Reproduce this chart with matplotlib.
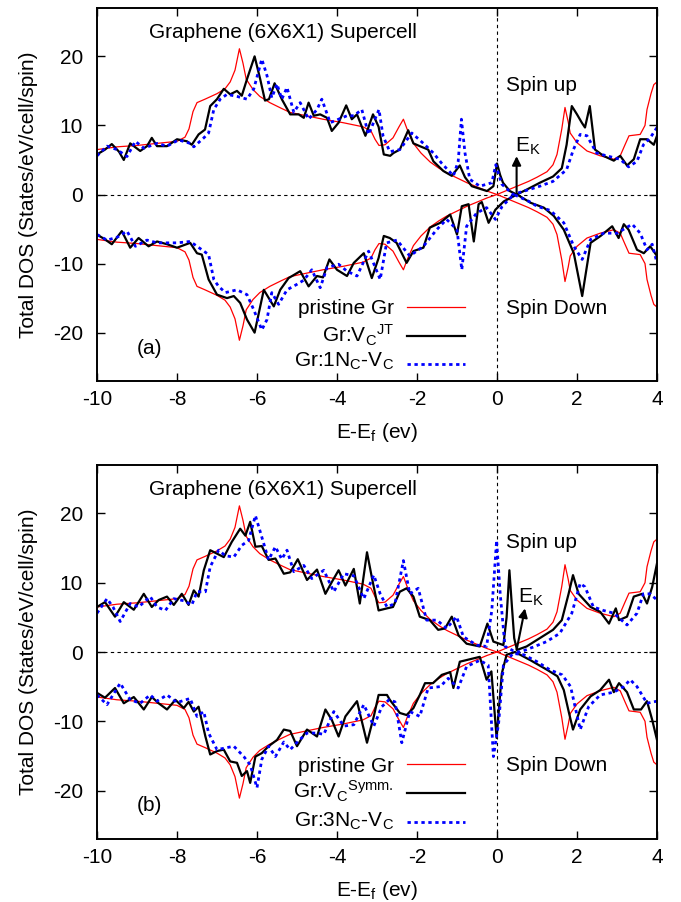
"""
Spin-resolved total DOS of a 6x6x1 graphene supercell:
pristine vs. carbon vacancy (JT / symmetric) and N-doped vacancy.
"""
import matplotlib
matplotlib.use("Agg")
import matplotlib.pyplot as plt
from matplotlib.lines import Line2D

plt.rcParams.update({
    "font.family": ["Liberation Sans", "DejaVu Sans"],
    "font.size": 15,
    "mathtext.fontset": "custom",
    "mathtext.rm": "Liberation Sans",
    "mathtext.it": "Liberation Sans:italic",
    "xtick.direction": "in", "ytick.direction": "in",
    "xtick.top": True, "ytick.right": True,
    "xtick.major.size": 6, "ytick.major.size": 6,
    "xtick.major.width": 1.0, "ytick.major.width": 1.0,
    "xtick.major.pad": 6.7, "ytick.major.pad": 10,
    "axes.linewidth": 1.4,
})

RED, BLACK, BLUE = "#ff0000", "#000000", "#0000ff"

# ---- pristine graphene (non-magnetic: spin down mirrors spin up) ----
e_pristine = [-10, -9.5, -9.0, -8.5, -8.0, -7.8, -7.7, -7.6, -7.5, -7.3, -7.0, -6.8,
              -6.67, -6.55, -6.44, -6.35, -6.27, -6.1, -5.93, -5.68, -5.4, -5.18, -4.77,
              -4.35, -3.85, -3.35, -3.15, -3.05, -2.95, -2.8, -2.6, -2.45, -2.34, -2.25,
              -2.09, -1.9, -1.67, -1.45, -1.25, -1.0, -0.75, -0.5, -0.25, 0.0, 0.25, 0.5,
              0.79, 1.0, 1.25, 1.4, 1.5, 1.62, 1.7, 1.78, 1.83, 2.0, 2.25, 2.58, 2.92,
              3.08, 3.2, 3.3, 3.58, 3.7, 3.75, 3.85, 3.92, 4.0]
dos_pristine = [6.5, 6.9, 7.1, 7.4, 7.7, 8.3, 9.5, 12.0, 13.3, 13.8, 14.6, 15.3,
                16.3, 18.0, 21.1, 19.0, 16.7, 15.2, 14.2, 13.3, 12.5, 11.9, 11.4,
                10.9, 10.4, 9.8, 9.2, 8.0, 7.1, 7.2, 8.2, 9.8, 10.9, 9.5,
                7.4, 6.0, 4.7, 3.8, 3.1, 2.4, 1.7, 1.1, 0.5, 0.0, 0.6, 1.2,
                1.9, 2.5, 3.3, 4.3, 5.8, 9.5, 12.6, 10.5, 8.9, 7.5, 6.3, 5.6, 5.1,
                5.6, 7.2, 8.5, 8.7, 10.0, 12.3, 14.6, 15.9, 16.3]

# ---- Gr:V_C^JT ----
e_jt_up = [-10, -9.8, -9.63, -9.45, -9.33, -9.17, -8.92, -8.75, -8.63, -8.5, -8.25, -8.0,
           -7.75, -7.63, -7.46, -7.3, -7.17, -7.0, -6.83, -6.67, -6.5, -6.38, -6.25, -6.06,
           -5.92, -5.8, -5.7, -5.56, -5.38, -5.17, -4.96, -4.83, -4.71, -4.58, -4.42, -4.25,
           -4.13, -3.96, -3.77, -3.63, -3.5, -3.29, -3.1, -2.96, -2.83, -2.67, -2.59, -2.43,
           -2.22, -2.09, -1.93, -1.72, -1.59, -1.34, -1.13, -0.93, -0.8, -0.63, -0.25, -0.09,
           0.0, 0.08, 0.15, 0.32, 0.49, 0.74, 1.07, 1.4, 1.62, 1.74, 1.87, 2.0, 2.12, 2.2,
           2.32, 2.45, 2.66, 2.92, 3.08, 3.25, 3.42, 3.58, 3.75, 3.92, 4.0]
dos_jt_up = [5.8, 6.5, 7.3, 6.2, 5.0, 7.4, 6.3, 7.0, 8.2, 7.0, 7.0, 8.0,
             7.7, 7.2, 8.7, 9.4, 12.8, 13.8, 15.3, 14.5, 15.0, 14.3, 16.7, 20.0,
             16.7, 13.6, 13.8, 16.1, 13.8, 11.6, 11.6, 11.1, 13.3, 11.4, 11.6, 11.1,
             9.2, 10.4, 12.9, 10.9, 11.6, 8.5, 11.6, 9.8, 5.8, 5.6, 6.0, 6.5,
             9.3, 7.4, 7.0, 6.5, 4.8, 3.4, 2.7, 4.2, 2.5, 1.2, 0.5, 1.2,
             4.5, 2.8, 1.7, 0.5, 0.0, 0.7, 1.7, 2.6, 3.8, 7.2, 12.8, 11.6, 10.4, 9.7,
             12.8, 6.5, 5.6, 4.9, 5.6, 4.2, 5.1, 8.0, 8.0, 7.2, 8.5]
e_jt_dn = [-10, -9.8, -9.63, -9.38, -9.17, -8.96, -8.71, -8.5, -8.25, -8.0, -7.67, -7.5,
           -7.38, -7.21, -7.0, -6.75, -6.58, -6.42, -6.25, -6.06, -5.83, -5.58, -5.42, -5.21,
           -4.92, -4.71, -4.5, -4.35, -4.19, -4.0, -3.75, -3.58, -3.33, -3.13, -2.96, -2.83,
           -2.68, -2.51, -2.26, -2.09, -1.84, -1.68, -1.42, -1.17, -1.0, -0.88, -0.71, -0.58,
           -0.46, -0.38, -0.21, -0.04, 0.17, 0.5, 0.84, 1.17, 1.42, 1.67, 1.92, 2.13,
           2.34, 2.59, 2.88, 3.04, 3.17, 3.29, 3.5, 3.67, 3.83, 4.0]
dos_jt_dn = [-5.8, -6.5, -7.2, -5.3, -7.7, -6.3, -7.5, -6.8, -7.2, -7.7, -7.0, -8.5,
             -8.7, -12.3, -14.5, -15.0, -14.7, -15.7, -18.1, -20.0, -13.8, -16.2, -13.8, -12.1,
             -11.1, -13.3, -11.8, -12.0, -9.4, -10.9, -11.8, -9.9, -8.5, -12.1, -9.2, -6.0,
             -6.3, -7.0, -9.9, -8.2, -7.7, -4.8, -4.1, -2.9, -5.8, -1.7, -1.4, -6.8,
             -1.4, -1.1, -4.1, -2.2, -1.0, 0.0, -1.2, -1.9, -3.1, -5.1, -8.5, -14.7,
             -7.0, -6.0, -4.6, -6.3, -4.3, -5.1, -8.0, -8.5, -7.5, -8.9]

# ---- Gr:1N_C-V_C ----
e_n1_up = [-10, -9.75, -9.5, -9.25, -9.04, -8.83, -8.5, -8.25, -7.96, -7.67, -7.58, -7.33,
           -7.21, -7.08, -6.92, -6.75, -6.5, -6.25, -6.08, -5.88, -5.75, -5.63, -5.5, -5.38,
           -5.25, -5.08, -4.92, -4.71, -4.5, -4.38, -4.17, -3.96, -3.75, -3.58, -3.38, -3.21,
           -2.95, -2.85, -2.68, -2.43, -2.13, -1.84, -1.59, -1.38, -1.09, -0.97, -0.89, -0.8,
           -0.68, -0.43, -0.13, -0.03, 0.12, 0.4, 0.74, 1.07, 1.4, 1.74, 1.91, 2.08,
           2.25, 2.49, 2.74, 3.08, 3.29, 3.5, 3.66, 3.83, 4.0]
dos_n1_up = [5.6, 7.0, 6.5, 5.5, 7.7, 6.7, 7.4, 7.0, 7.9, 7.4, 6.9, 8.2,
             8.9, 12.3, 13.8, 14.5, 14.2, 13.8, 15.3, 19.6, 17.2, 14.0, 16.0, 13.8,
             15.5, 11.9, 13.3, 10.9, 12.3, 13.8, 10.4, 10.9, 11.4, 11.4, 12.3, 8.7,
             12.3, 8.5, 6.2, 6.5, 8.9, 7.4, 6.0, 4.5, 2.7, 4.8, 10.9, 6.0,
             2.2, 1.2, 1.7, 4.3, 1.5, 0.0, 0.6, 1.2, 1.9, 3.6, 6.5, 8.7,
             8.5, 6.0, 5.6, 5.1, 4.0, 4.8, 7.2, 8.2, 9.7]
e_n1_dn = [-10, -9.75, -9.5, -9.25, -9.04, -8.75, -8.5, -8.0, -7.67, -7.33, -7.21, -7.08,
           -6.96, -6.79, -6.5, -6.25, -6.08, -5.88, -5.75, -5.63, -5.46, -5.25, -5.0, -4.83,
           -4.63, -4.42, -4.25, -3.96, -3.75, -3.5, -3.21, -2.92, -2.76, -2.5, -2.18, -1.84,
           -1.51, -1.26, -1.0, -0.88, -0.76, -0.51, -0.26, -0.04, 0.13, 0.42, 0.8, 1.0,
           1.33, 1.67, 1.92, 2.13, 2.34, 2.67, 3.0, 3.38, 3.58, 3.75, 3.88, 4.0]
dos_n1_dn = [-5.8, -6.6, -6.2, -5.3, -7.5, -6.6, -7.0, -7.0, -6.8, -8.2, -8.7, -12.3,
             -13.3, -14.2, -13.8, -14.5, -16.7, -19.6, -18.1, -14.2, -15.9, -13.8, -13.0, -12.4,
             -10.9, -13.5, -10.6, -10.1, -11.1, -11.8, -8.2, -12.3, -7.0, -6.6, -8.9, -7.5,
             -5.1, -3.6, -5.1, -10.9, -4.6, -2.7, -1.9, -3.6, -1.7, 0.0, -1.0, -1.7,
             -2.3, -4.1, -7.5, -9.4, -6.5, -5.6, -5.6, -4.3, -5.6, -8.0, -7.2, -9.9]

# ---- Gr:V_C^Symm. ----
e_sym_up = [-10, -9.8, -9.55, -9.33, -9.08, -8.83, -8.63, -8.46, -8.25, -8.08, -7.88, -7.71,
            -7.58, -7.46, -7.33, -7.17, -7.0, -6.83, -6.63, -6.42, -6.29, -6.17, -6.04, -5.88,
            -5.71, -5.54, -5.33, -5.17, -4.98, -4.75, -4.5, -4.29, -4.13, -3.96, -3.79, -3.58,
            -3.43, -3.25, -3.13, -2.96, -2.75, -2.6, -2.43, -2.26, -2.09, -1.93, -1.68, -1.47,
            -1.3, -1.13, -0.96, -0.76, -0.43, -0.24, -0.09, 0.16, 0.24, 0.31, 0.38, 0.43,
            0.5, 0.74, 1.07, 1.4, 1.62, 1.79, 1.9, 2.04, 2.34, 2.58, 2.8, 2.97,
            3.05, 3.25, 3.42, 3.63, 3.75, 3.88, 4.0]
dos_sym_up = [6.5, 7.2, 5.1, 7.2, 6.1, 8.4, 6.5, 7.5, 8.0, 6.8, 8.4, 6.8,
              8.9, 8.0, 11.8, 14.7, 14.2, 13.7, 15.9, 17.8, 16.8, 18.8, 15.2, 15.3,
              13.3, 13.5, 11.3, 11.5, 13.4, 10.4, 11.9, 8.4, 10.1, 11.8, 9.6, 12.0,
              7.0, 14.4, 10.8, 6.0, 6.3, 6.5, 8.7, 9.2, 8.0, 5.1, 4.6, 3.2,
              3.4, 5.1, 2.4, 1.2, 0.8, 4.1, 1.5, 1.0, 5.0, 11.8, 6.0, 2.0,
              0.3, 0.8, 2.0, 3.2, 4.6, 8.4, 11.1, 8.4, 6.5, 5.8, 4.1, 6.3,
              4.6, 5.1, 8.0, 8.4, 7.0, 9.4, 12.8]
e_sym_dn = [-10, -9.8, -9.55, -9.33, -9.08, -8.83, -8.63, -8.46, -8.25, -8.04, -7.83, -7.71,
            -7.58, -7.46, -7.29, -7.17, -7.0, -6.83, -6.67, -6.5, -6.38, -6.25, -6.17, -6.04,
            -5.88, -5.71, -5.5, -5.33, -5.17, -5.0, -4.75, -4.5, -4.29, -4.13, -3.96, -3.79,
            -3.5, -3.25, -3.08, -2.96, -2.75, -2.68, -2.43, -2.26, -2.09, -1.93, -1.8, -1.6,
            -1.38, -1.17, -1.09, -0.93, -0.43, -0.26, -0.14, -0.01, 0.12, 0.24, 0.45, 0.84,
            1.26, 1.51, 1.67, 1.8, 1.9, 2.08, 2.34, 2.58, 2.8, 2.92, 3.05, 3.25,
            3.42, 3.6, 3.75, 3.88, 4.0]
dos_sym_dn = [-5.9, -6.6, -5.2, -7.4, -6.5, -8.3, -6.5, -7.4, -8.3, -6.9, -8.1, -7.2,
              -8.6, -7.9, -12.2, -14.8, -14.3, -14.1, -15.8, -16.0, -17.9, -17.2, -18.9, -15.1,
              -14.6, -13.6, -12.7, -11.2, -11.4, -13.6, -11.2, -12.2, -8.3, -9.8, -12.2, -9.3,
              -7.1, -13.1, -9.3, -6.2, -6.2, -6.9, -8.8, -9.1, -8.1, -6.2, -4.5, -4.5,
              -3.3, -2.9, -5.2, -1.4, -0.7, -4.0, -2.8, -12.4, -3.1, -0.4, 0.0, -1.2,
              -2.6, -3.5, -5.5, -8.8, -11.2, -8.3, -6.4, -5.5, -4.0, -5.8, -4.5, -5.8,
              -8.3, -8.3, -7.1, -9.8, -12.7]

# ---- Gr:3N_C-V_C ----
e_n3_up = [-10, -9.75, -9.6, -9.42, -9.17, -8.96, -8.67, -8.5, -8.29, -8.08, -7.83, -7.63,
           -7.5, -7.29, -7.17, -6.96, -6.79, -6.58, -6.38, -6.21, -6.04, -5.88, -5.71, -5.54,
           -5.38, -5.25, -5.08, -4.83, -4.63, -4.33, -4.08, -3.83, -3.58, -3.33, -3.08, -2.92,
           -2.75, -2.55, -2.34, -2.18, -1.97, -1.76, -1.5, -1.26, -1.01, -0.84, -0.51, -0.26,
           -0.13, -0.01, 0.08, 0.2, 0.4, 0.58, 0.9, 1.24, 1.57, 1.87, 2.08, 2.2,
           2.41, 2.66, 2.92, 3.25, 3.5, 3.66, 3.83, 4.0]
dos_n3_up = [5.6, 7.7, 6.5, 4.4, 7.0, 6.5, 8.0, 6.5, 6.0, 7.7, 7.4, 6.8,
             8.7, 8.7, 12.3, 14.7, 13.9, 13.7, 15.4, 16.1, 19.7, 16.6, 13.3, 15.2,
             13.4, 14.7, 11.6, 12.5, 10.6, 11.8, 8.7, 11.3, 11.0, 7.7, 11.1, 8.4,
             6.5, 7.0, 13.2, 8.4, 9.2, 4.6, 4.6, 3.4, 5.1, 2.2, 1.0, 0.8,
             6.0, 16.1, 8.4, 0.8, 0.2, 0.0, 0.7, 1.5, 2.7, 5.6, 9.9, 9.4,
             6.5, 6.0, 5.6, 3.9, 5.6, 8.4, 8.4, 7.5]
e_n3_dn = [-10, -9.75, -9.42, -9.17, -8.92, -8.67, -8.5, -8.25, -8.0, -7.67, -7.5, -7.33,
           -7.21, -7.0, -6.83, -6.58, -6.33, -6.17, -6.0, -5.88, -5.71, -5.54, -5.33, -5.17,
           -4.96, -4.75, -4.5, -4.33, -4.08, -3.83, -3.58, -3.33, -3.08, -2.88, -2.7, -2.55,
           -2.38, -2.18, -1.93, -1.72, -1.42, -1.22, -0.97, -0.76, -0.43, -0.22, -0.09, 0.04,
           0.16, 0.4, 0.67, 1.0, 1.33, 1.63, 1.84, 2.08, 2.29, 2.58, 2.92, 3.17,
           3.33, 3.5, 3.75, 4.0]
dos_n3_dn = [-6.2, -7.6, -4.5, -6.9, -7.4, -6.2, -7.1, -6.2, -7.3, -6.7, -9.3, -8.6,
             -11.7, -14.1, -13.9, -13.6, -15.1, -16.3, -19.6, -15.5, -13.6, -15.1, -13.0, -14.1,
             -12.8, -11.7, -11.7, -11.9, -8.6, -10.7, -10.5, -7.6, -10.7, -7.9, -6.9, -7.2,
             -13.1, -8.6, -9.3, -5.2, -5.0, -3.8, -5.2, -2.1, -1.2, -1.9, -15.1, -10.3,
             -1.9, -0.2, -0.4, -1.4, -2.6, -3.3, -5.0, -11.2, -7.9, -6.2, -5.8, -5.0,
             -4.0, -5.0, -7.4, -7.1]

X_TICKS = [-10, -8, -6, -4, -2, 0, 2, 4]
Y_TICKS = [-20, -10, 0, 10, 20]

W, H = 681, 902          # output size in pixels


def fx(x):
    return x / W


def fy(y):
    return 1 - y / H


STYLE = {
    "pristine": dict(color=RED, lw=0.9),
    "vac": dict(color=BLACK, lw=1.6),
    "dope": dict(color=BLUE, lw=2.0, ls=(0, (1.2, 1.3))),
}


def draw_panel(fig, top, bottom, curves, labels, tag, arrow, ek_pos, leg_rows):
    ax = fig.add_axes([fx(97), fy(bottom), fx(657) - fx(97), fy(top) - fy(bottom)])
    ax.axhline(0, color="k", lw=0.8, ls=(0, (3, 3)))
    ax.axvline(0, color="k", lw=0.8, ls=(0, (3, 3)))

    ax.plot(e_pristine, dos_pristine, **STYLE["pristine"])
    ax.plot(e_pristine, [-v for v in dos_pristine], **STYLE["pristine"])
    for key, (e_up, d_up, e_dn, d_dn) in curves:
        ax.plot(e_up, d_up, **STYLE[key])
        ax.plot(e_dn, d_dn, **STYLE[key])

    ax.set_xlim(-10, 4)
    ax.set_ylim(-27, 27)
    ax.set_xticks(X_TICKS)
    ax.set_xticklabels([str(t) for t in X_TICKS])
    ax.set_yticks(Y_TICKS)
    ax.set_yticklabels([str(t) for t in Y_TICKS])
    ax.set_xlabel(r"E-E$_\mathrm{f}$ (ev)")
    ax.set_ylabel("Total DOS (States/eV/cell/spin)")
    ax.yaxis.set_label_coords(-0.106, 0.5)
    ax.xaxis.set_label_coords(0.5, -0.108)

    # E_K marker
    ax.annotate("", xy=arrow[1], xytext=arrow[0],
                arrowprops=dict(arrowstyle="-|>", color="k", lw=1.5,
                                mutation_scale=13, shrinkA=0, shrinkB=0))
    ax.text(ek_pos[0], ek_pos[1], r"E$_\mathrm{K}$", va="baseline")

    # in-panel labels (pixel positions)
    fig.text(fx(149), fy(top + 30), "Graphene (6X6X1) Supercell", va="baseline")
    fig.text(fx(506), fy(top + 83), "Spin up", va="baseline")
    fig.text(fx(506), fy(top + 306), "Spin Down", va="baseline")
    fig.text(fx(137), fy(top + 346), tag, va="baseline")

    # gnuplot-style key: text right-aligned, sample to the right
    for key, label, y_line, y_text in zip(["pristine", "vac", "dope"], labels,
                                          leg_rows[0], leg_rows[1]):
        fig.text(fx(394), fy(y_text), label, ha="right", va="baseline")
        fig.add_artist(Line2D([fx(407), fx(465)], [fy(y_line), fy(y_line)],
                              **STYLE[key]))
    return ax


fig = plt.figure(figsize=(W / 100, H / 100), dpi=100)

draw_panel(fig, 8, 381,
           [("vac", (e_jt_up, dos_jt_up, e_jt_dn, dos_jt_dn)),
            ("dope", (e_n1_up, dos_n1_up, e_n1_dn, dos_n1_dn))],
           ["pristine Gr", r"Gr:V$_\mathrm{C}$$^\mathrm{JT}$",
            r"Gr:1N$_\mathrm{C}$-V$_\mathrm{C}$"],
           "(a)", ((0.49, 0.3), (0.49, 5.55)), (0.45, 6.2),
           ([307, 336, 364], [314, 343, 367]))

draw_panel(fig, 465, 839,
           [("vac", (e_sym_up, dos_sym_up, e_sym_dn, dos_sym_dn)),
            ("dope", (e_n3_up, dos_n3_up, e_n3_dn, dos_n3_dn))],
           ["pristine Gr", r"Gr:V$_\mathrm{C}$$^\mathrm{Symm.}$",
            r"Gr:3N$_\mathrm{C}$-V$_\mathrm{C}$"],
           "(b)", ((0.49, 0.29), (0.70, 6.3)), (0.53, 7.05),
           ([764, 793, 822], [772, 798, 827]))

fig.savefig("out.png", dpi=100)
